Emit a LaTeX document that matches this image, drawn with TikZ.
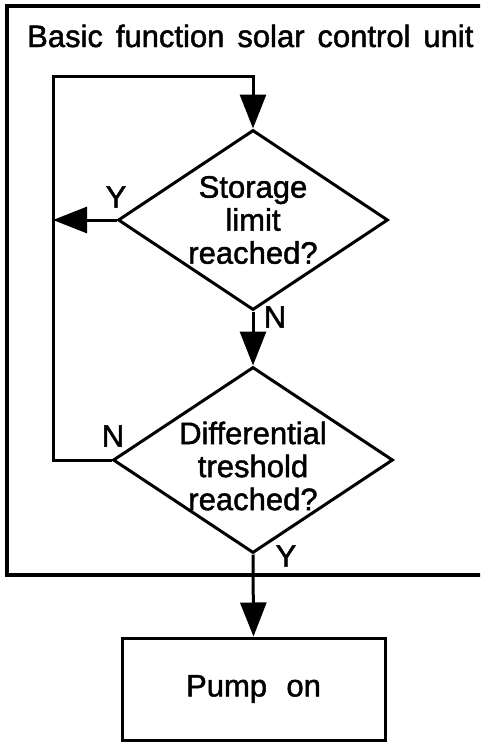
\documentclass[tikz,border=0pt]{standalone}
\usepackage{fontspec}
\setmainfont{Liberation Sans}
\newfontfamily\diagfont{Liberation Sans}[FakeBold=1.5]
\newfontfamily\widefont{Liberation Sans}[FakeBold=1.5, WordSpace=1.5]
\usetikzlibrary{positioning,arrows.meta,shapes.geometric,calc}
\tikzset{
  decnode/.style={diamond, draw, line width=3pt, inner sep=0pt, minimum width=270pt, minimum height=180pt},
  actnode/.style={rectangle, draw, line width=3pt, minimum width=263pt, minimum height=102pt, align=center, font=\widefont\fontsize{31}{34}\selectfont},
  textnode/.style={align=center, inner sep=0pt, font=\diagfont\fontsize{31}{33}\selectfont},
  lblnode/.style={inner sep=0pt, font=\diagfont\fontsize{31}{34}\selectfont},
  arrow/.style={-{Triangle[length=34pt,width=26pt]}, line width=3pt},
  frameline/.style={line width=3.5pt}
}
\begin{document}
\begin{tikzpicture}[x=1pt,y=-1pt]
\useasboundingbox (0,0) rectangle (480,744);
\clip (0,0) rectangle (480,744);
% frame of the control unit
\draw[frameline] (7,6) rectangle (495,575);
\node[lblnode, anchor=base west, font=\widefont\fontsize{31}{34}\selectfont] (title) at (27,47) {Basic function solar control unit};
% decisions
\node[decnode] (d1) at (253,220) {};
\node[textnode] (t1) at (d1) {Storage\\limit\\reached?};
\node[decnode, minimum width=280pt, minimum height=186pt] (d2) at (253,460) {};
\node[textnode, yshift=-6pt] (t2) at (d2) {Differential\\treshold\\reached?};
\node[actnode] (pump) at (253.5,689) {Pump on};
\coordinate (ltop) at (53,76);
% connectors
\draw[arrow] (d2.west) -| (ltop) -| (d1.north);
\draw[arrow] (d1.west) -- (d1.west -| ltop);
\draw[arrow] (d1.south) -- (d2.north);
\draw[arrow] (d2.south) -- (pump.north);
% labels
\node[lblnode] (y1) at (116,197) {Y};
\node[lblnode] (n1) at (275,317) {N};
\node[lblnode] (n2) at (113,436) {N};
\node[lblnode] (y2) at (286,556) {Y};
\end{tikzpicture}
\end{document}
